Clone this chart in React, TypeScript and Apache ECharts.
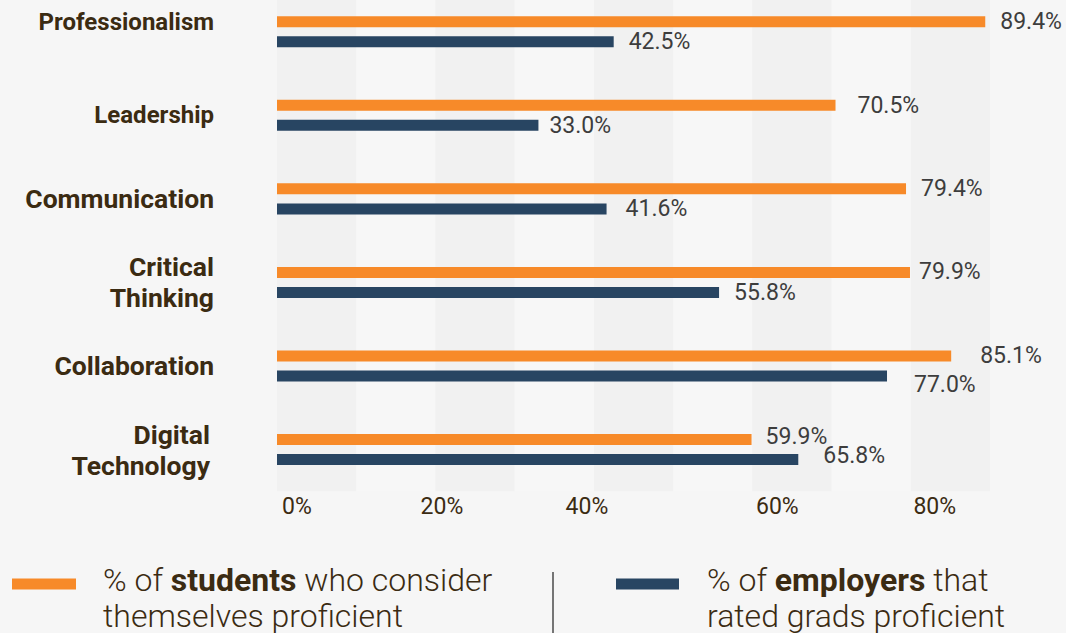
import React, { useEffect, useRef } from "react";
import * as echarts from "echarts";

const categories = [
  "Professionalism",
  "Leadership",
  "Communication",
  "Critical\nThinking",
  "Collaboration",
  "Digital\nTechnology",
];
const studentsPct = [89.4, 70.5, 79.4, 79.9, 85.1, 59.9];
const employersPct = [42.5, 33.0, 41.6, 55.8, 77.0, 65.8];
const tickLabels = ["0%", "20%", "40%", "60%", "80%"];
const seriesNames = ["students", "employers"];

const BROWN = "#3b2b12";
const ORANGE = "#f78a29";
const NAVY = "#284562";

// small label nudges [dx, dy] to mimic the reference placement
const studentNudge: Record<number, number[]> = { 1: [7, 0], 3: [-6, -1], 4: [14, 0], 5: [-1, -3] };
const employerNudge: Record<number, number[]> = { 1: [-4, 0], 2: [4, 0], 4: [12, 9], 5: [10, -4] };

const tickShift: Record<number, number[]> = {
  0: [0, 0, 0, 40],
  20: [0, 0, 0, 13],
  40: [0, 14, 0, 0],
  60: [0, 0, 0, 50],
  80: [0, 0, 0, 48],
};

export default function App() {
  const ref = useRef<HTMLDivElement>(null);
  useEffect(() => {
    if (!ref.current) return;
    const chart = echarts.init(ref.current, undefined, { renderer: "svg" });
    const valueLabel = {
      show: true,
      position: "right",
      distance: 15,
      fontSize: 23,
      color: "#3d3d3d",
      fontFamily: "Roboto",
      formatter: (p: any) => Number(p.value).toFixed(1) + "%",
    };
    const mkData = (vals: number[], nudge: Record<number, number[]>) =>
      vals.map((v, i) =>
        nudge[i] ? { value: v, label: { offset: nudge[i] } } : { value: v }
      );
    const tickRich: Record<string, any> = {};
    Object.keys(tickShift).forEach((k) => {
      tickRich["t" + k] = {
        fontSize: 23,
        color: BROWN,
        fontFamily: "Roboto",
        padding: tickShift[Number(k)],
      };
    });
    const legendRich = {
      n: { fontSize: 32, fontWeight: 300, color: BROWN, lineHeight: 36, fontFamily: "Roboto" },
      b: { fontSize: 32, fontWeight: "bold", color: BROWN, lineHeight: 36, fontFamily: "Roboto" },
    };
    const catStyle = { fontWeight: "bold", color: BROWN, fontFamily: "Roboto" };
    const option: any = {
      animation: false,
      backgroundColor: "#f6f6f6",
      textStyle: { fontFamily: "Roboto" },
      grid: { left: 277, right: 76, top: 0, bottom: 141.7 },
      xAxis: {
        type: "value",
        min: 0,
        max: 90,
        interval: 10,
        axisLine: { show: false },
        axisTick: { show: false },
        splitLine: { show: false },
        splitArea: { show: true, areaStyle: { color: ["#f1f1f1", "#f7f7f7"] } },
        axisLabel: {
          margin: 4,
          fontSize: 23,
          color: BROWN,
          showMaxLabel: false,
          formatter: (v: number) =>
            v % 20 === 0 && v <= 80 ? `{t${v}|${tickLabels[v / 20]}}` : "",
          rich: tickRich,
        },
      },
      yAxis: {
        type: "category",
        inverse: true,
        data: categories,
        axisLine: { show: false },
        axisTick: { show: false },
        axisLabel: {
          margin: 63,
          fontSize: 26.5,
          fontWeight: "bold",
          color: BROWN,
          lineHeight: 31,
          fontFamily: "Roboto",
          formatter: (v: string) => {
            if (v === "Professionalism") return `{up|${v}}`;
            if (v === "Leadership") return `{sm|${v}}`;
            if (v.startsWith("Digital")) return v.split("\n").map((s) => `{dt|${s}}`).join("\n");
            return v;
          },
          rich: {
            up: { ...catStyle, fontSize: 24, padding: [0, 0, 19, 0] },
            sm: { ...catStyle, fontSize: 24 },
            dt: { ...catStyle, fontSize: 26.5, lineHeight: 31, padding: [0, 4, 0, 0] },
          },
        },
      },
      legend: [
        {
          data: [seriesNames[0]],
          left: 7,
          top: 539,
          icon: "rect",
          itemWidth: 64,
          itemHeight: 11,
          selectedMode: false,
          formatter: () =>
            "{n|% of }{b|students}{n| who consider}\n{n|themselves proficient}",
          textStyle: { padding: [28, 0, 0, 22], lineHeight: 36, fontSize: 32, rich: legendRich },
        },
        {
          data: [seriesNames[1]],
          left: 611,
          top: 539,
          icon: "rect",
          itemWidth: 63,
          itemHeight: 11,
          selectedMode: false,
          formatter: () =>
            "{n|% of }{b|employers}{n| that}\n{n|rated grads proficient}",
          textStyle: { padding: [28, 0, 0, 23], lineHeight: 36, fontSize: 32, rich: legendRich },
        },
      ],
      graphic: [
        {
          type: "line",
          shape: { x1: 553, y1: 582, x2: 553, y2: 650 },
          style: { stroke: "#4a4a4a", lineWidth: 1.5 },
        },
      ],
      series: [
        {
          name: seriesNames[0],
          type: "bar",
          barWidth: 11,
          barGap: "82%",
          itemStyle: { color: ORANGE },
          label: valueLabel,
          data: mkData(studentsPct, studentNudge),
        },
        {
          name: seriesNames[1],
          type: "bar",
          barWidth: 11,
          itemStyle: { color: NAVY },
          label: valueLabel,
          data: mkData(employersPct, employerNudge),
        },
      ],
    };
    chart.setOption(option);
    return () => chart.dispose();
  }, []);
  return (
    <div
      ref={ref}
      style={{ position: "fixed", left: 0, top: -10, width: 1066, height: 643 }}
    />
  );
}
